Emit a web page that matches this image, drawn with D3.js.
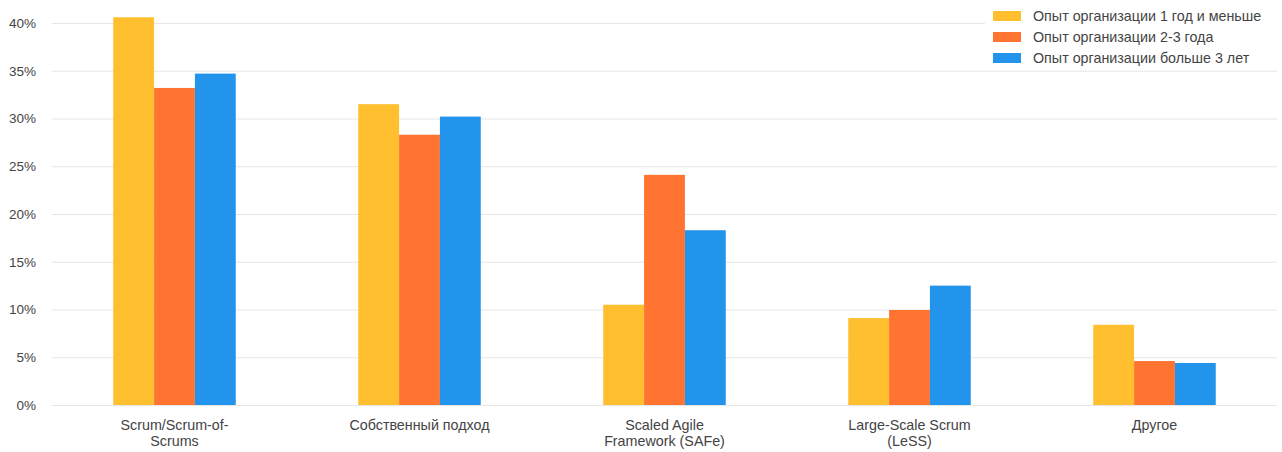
<!DOCTYPE html>
<html><head><meta charset="utf-8">
<script src="https://cdn.jsdelivr.net/npm/d3@7"></script>
<style>body{margin:0;background:#fff;}svg{display:block;font-family:"Liberation Sans",Arial,sans-serif;}</style>
</head><body>
<svg id="c" width="1282" height="452"></svg>
<script>
const categories = [["Scrum/Scrum-of-","Scrums"],["Собственный подход"],["Scaled Agile","Framework (SAFe)"],["Large-Scale Scrum","(LeSS)"],["Другое"]];
const seriesNames = ["Опыт организации 1 год и меньше","Опыт организации 2-3 года","Опыт организации больше 3 лет"];
const series1 = [40.6, 31.5, 10.5, 9.1, 8.4];
const series2 = [33.2, 28.3, 24.1, 9.95, 4.6];
const series3 = [34.7, 30.2, 18.3, 12.5, 4.4];
const tickValues = [0,5,10,15,20,25,30,35,40];
const colors = ["#FFBF2E","#FF7431","#2294EC"];

const svg = d3.select("#c");
const x0 = 52, x1 = 1277, yTop = 23, yBot = 405;
const y = d3.scaleLinear().domain([0,40]).range([yBot,yTop]);
const idx = d3.range(categories.length);
const xb = d3.scaleBand().domain(idx).range([x0,x1]).paddingInner(0.5).paddingOuter(0.25);
const xs = d3.scaleBand().domain([0,1,2]).range([0,xb.bandwidth()]);
const allSeries = [series1,series2,series3];

// gridlines + ticks
const yAxis = d3.axisLeft(y).tickValues(tickValues).tickFormat(d=>d+"%").tickSize(-(x1-x0)).tickPadding(16);
const g = svg.append("g").attr("transform",`translate(${x0},0)`).call(yAxis);
g.select(".domain").remove();
g.selectAll(".tick line").attr("stroke","#e6e6e6").attr("stroke-width",1);
g.selectAll(".tick text").attr("fill","#444").attr("font-size",13.5).attr("font-family","Liberation Sans, Arial, sans-serif");

// bars
allSeries.forEach((s,si)=>{
  svg.append("g").selectAll("rect").data(s).join("rect")
    .attr("x",(d,i)=>xb(i)+xs(si))
    .attr("width",xs.bandwidth())
    .attr("y",d=>y(d))
    .attr("height",d=>y(0)-y(d))
    .attr("fill",colors[si]);
});

// category labels
const cl = svg.append("g");
categories.forEach((lines,i)=>{
  const t = cl.append("text").attr("x",xb(i)+xb.bandwidth()/2).attr("y",430)
    .attr("text-anchor","middle").attr("fill","#444").attr("font-size",14.3);
  lines.forEach((ln,li)=>t.append("tspan").attr("x",xb(i)+xb.bandwidth()/2).attr("dy",li===0?0:16).text(ln));
});

// legend
const lg = svg.append("g");
lg.append("rect").attr("x",985).attr("y",4).attr("width",292).attr("height",66).attr("fill","#fff");
seriesNames.forEach((n,i)=>{
  const yy = 16 + i*21;
  lg.append("rect").attr("x",993).attr("y",yy-5).attr("width",28).attr("height",10).attr("fill",colors[i]);
  lg.append("text").attr("x",1033).attr("y",yy+5).attr("fill","#444").attr("font-size",14.3).text(n);
});
</script>
</body></html>
